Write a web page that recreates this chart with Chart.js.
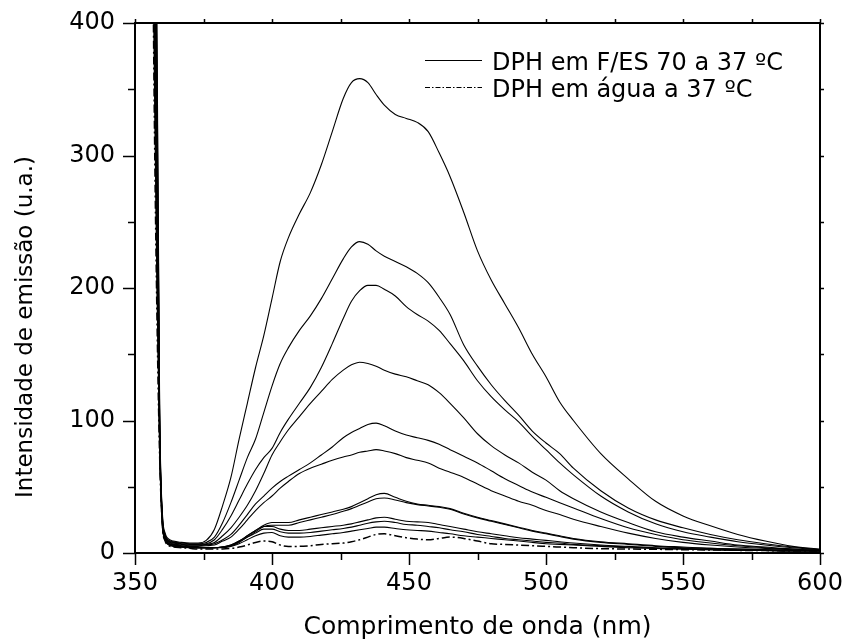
<!DOCTYPE html>
<html>
<head>
<meta charset="utf-8">
<script src="https://cdn.jsdelivr.net/npm/chart.js@4.4.0/dist/chart.umd.min.js"></script>
<style>
  html, body { margin: 0; padding: 0; background: #fff; }
  .chart-box { width: 844px; height: 643px; position: relative; }
</style>
</head>
<body>
<div class="chart-box"><canvas id="myChart"></canvas></div>
<script>
// comprimento de onda (nm)
const wavelength = [356,357,358,359,360,361,362,364,367,370,373,376,379,382,385,388,391,394,397,400,403,406,
  410,414,418,422,426,429,432,435,438,441,445,449,453,457,461,465,470,475,480,485,490,495,500,505,510,
  520,530,540,550,560,570,580,590,600];

// DPH em F/ES 70 (varias concentracoes)
const fes1 = [900,600,400,110,30,15,11,9,8,7.5,7.5,9.5,18,36,57,86,113,140,164,192,220,238,
  256,272,293,318,343,355,358,355,346,338,331,328,325,318,302,284,257,228,206,188,170,150,133,114,100,
  75,56,39,28,20.5,14,9,5,3];
const fes2 = [880,580,380,105,28,14,10,8.5,7.5,7,7,8,12,23,38,55,72,86,106,126,143,155,
  168,179,192,207,222,231,235,233,228,224,220,216,211,204,193,180,157,141,127,115,104,92,83,75,64,
  47,34,25,19,14,10,7,4.5,2.5];
const fes3 = [860,560,360,100,27,13,9.5,8,7,6.5,6.5,7,10,18,28,40,52,63,72,79,91,101,
  113,125,140,158,177,190,198,202,202,199,194,186,180,175,168,158,145,130,118,108,99,88,78,68,59,
  43,31,22,16,12,8.5,6,4,2.5];
const fes4 = [840,540,340,97,26,12.5,9,7.5,6.5,6,6,6.5,8,13,19,27,36,47,60,74,84,93,
  103,113,122,131,138,142,144,143,141,138,135,133,130,127,121,113,102,90,81,74,68,61,55,47,41,
  31,23,16,12,9,6,4.5,3,2];
const fes5 = [820,520,320,94,25,12,8.5,7,6,5.5,5.5,6,7,10,14,21,29,37,43,49,54,58,
  63,68,74,80,87,91,94,97,98,96,92,89,87,85,82,78,73,68,62,56,51,46,42,38,34,
  26,19,14,10,7.5,5.5,4,3,2];
const fes6 = [800,500,300,91,24,11.5,8,6.5,5.5,5,5,5.5,6,9,12,18,25,32,38,43,49,54,
  60,64,67,70,72.5,74,76,77,78,77,75,72,70,68,64,61,57,52,47,43,39,36,32,29,25.5,
  20,15,11,8,6,4.5,3.5,2.5,2];
const fes7 = [760,470,280,88,23,11,7.5,6,5,4.5,4,4,4,4.5,6,9,13,17,21,23,23,23,
  25,27,29,31,33,35,38,41,44,45,42,39,37,36,35,33.5,30,27,24.5,22,19.5,17,15,13,11,
  8.5,7,5.5,4.5,3.5,3,2.5,2,1.5];
const fes8 = [730,450,260,85,22.5,10.5,7.5,6,5,4.5,4,4,4,4.5,5.5,8.5,12,16,20,21,21,21,
  23,25,27,29,31.5,33.5,36,38.5,41,41.5,40,38,36.5,35.5,34.5,33,29.5,26.5,24,21.5,19,16.5,14.5,12.5,10.5,
  8,6.5,5,4,3.5,3,2.5,2,1.5];
const fes9 = [700,430,240,82,22,10,7,5.5,4.5,4,4,4,4,4.5,6,9,13,17,20,20,18,17,
  17,18,19,20,21,22,23.5,25,26.5,27,25.5,24,23.5,23,21.5,20,18,16,14.5,13,11.5,10.5,9.5,8.5,7.5,
  6,5,4,3.5,3,2.5,2,1.5,1.5];
const fes10 = [660,400,220,79,21.5,10,7,5.5,4.5,4,4,4,4,4.5,5.5,8,12,15,18,18,16,15,
  15,15.5,16.5,17.5,18.5,19.5,21,22.5,23.5,24,23,21.5,21,20,19,17.5,16,14,12.5,11,10,9,8,7.5,6.5,
  5.5,4.5,3.5,3,2.5,2,2,1.5,1.5];
const fes11 = [620,370,200,76,21,9.5,6.5,5,4.5,4,4,4,4,4,5,7,10,13,15,15.5,13,12,
  12,12.5,13.5,14.5,15.5,16.5,17.5,18.5,19.5,19.5,18.5,17.5,17,16.5,15.5,14.5,13,12,11,10,9,8,7,6.5,6,
  5,4,3.5,3,2.5,2,2,1.5,1.5];

// DPH em agua
const water = [580,340,180,72,20,9,6,4.5,4,3.5,3,3,3,3,3.5,4.5,6,8,9,8.5,6,5,
  5,5.5,6.5,7,7.5,8.5,10,12,14,14.5,13,11.5,10.5,10,11,12,11,9,7,6.5,6,5.5,5,4.5,4,
  3.3,3,2.8,2.5,2.3,2,1.8,1.5,1.5];

const legendLabels = ['DPH em F/ES 70 a 37 ºC', 'DPH em água a 37 ºC'];
const yTitle = 'Intensidade de emissão (u.a.)';
const fesSeries = [fes1, fes2, fes3, fes4, fes5, fes6, fes7, fes8, fes9, fes10, fes11];

const FONT = 'DejaVu Sans';

const toPoints = arr => arr.map((v, i) => ({ x: wavelength[i], y: v }));

const datasets = fesSeries.map((s, i) => ({
  label: i === 0 ? legendLabels[0] : 'F/ES ' + (i + 1),
  data: toPoints(s),
  borderColor: '#000',
  borderWidth: 1.1,
  pointRadius: 0,
  fill: false,
  cubicInterpolationMode: 'monotone'
}));
datasets.push({
  label: legendLabels[1],
  data: toPoints(water),
  borderColor: '#000',
  borderWidth: 1.5,
  borderDash: [8, 3, 2, 3],
  pointRadius: 0,
  fill: false,
  cubicInterpolationMode: 'monotone'
});

// moldura, marcas dos eixos, titulo do eixo y e legenda
const framePlugin = {
  id: 'frame',
  afterDraw(chart) {
    const { ctx, chartArea: a, scales: { x, y } } = chart;
    ctx.save();
    ctx.strokeStyle = '#000';
    ctx.lineWidth = 2;
    ctx.strokeRect(a.left, a.top, a.right - a.left, a.bottom - a.top);

    ctx.lineWidth = 1.5;
    ctx.beginPath();
    x.ticks.forEach(t => {
      const px = Math.round(x.getPixelForValue(t.value)) + 0.5;
      const major = t.value % 50 === 0;
      ctx.moveTo(px, a.bottom);
      ctx.lineTo(px, a.bottom + (major ? 12 : 7));
      ctx.moveTo(px, a.top);
      ctx.lineTo(px, a.top - 4);
    });
    y.ticks.forEach(t => {
      const py = Math.round(y.getPixelForValue(t.value)) + 0.5;
      const major = t.value % 100 === 0;
      ctx.moveTo(a.left, py);
      ctx.lineTo(a.left - (major ? 12 : 7), py);
      ctx.moveTo(a.right, py);
      ctx.lineTo(a.right + 4, py);
    });
    ctx.stroke();

    ctx.fillStyle = '#000';

    // titulo do eixo y (abaixo do centro, como no original)
    ctx.save();
    ctx.translate(26, 327);
    ctx.rotate(-Math.PI / 2);
    ctx.font = '23px "' + FONT + '"';
    ctx.textAlign = 'center';
    ctx.textBaseline = 'middle';
    ctx.fillText(yTitle, 0, 0);
    ctx.restore();

    // legenda
    const lx = a.left + 290, tx = a.left + 357;
    ctx.font = '24px "' + FONT + '"';
    ctx.textBaseline = 'alphabetic';
    ctx.lineWidth = 1;
    ctx.beginPath();
    ctx.moveTo(lx, 60.5);
    ctx.lineTo(lx + 57, 60.5);
    ctx.stroke();
    ctx.fillText(legendLabels[0], tx, 70);
    ctx.setLineDash([5, 2, 1.5, 2]);
    ctx.beginPath();
    ctx.moveTo(lx, 87.5);
    ctx.lineTo(lx + 57, 87.5);
    ctx.stroke();
    ctx.setLineDash([]);
    ctx.fillText(legendLabels[1], tx, 96.5);
    ctx.restore();
  }
};

const ctx = document.getElementById('myChart').getContext('2d');
new Chart(ctx, {
  type: 'line',
  data: { datasets: datasets },
  options: {
    responsive: true,
    maintainAspectRatio: false,
    animation: false,
    layout: { padding: { left: 0, right: 24, top: 23, bottom: 0 } },
    plugins: { legend: { display: false }, tooltip: { enabled: false } },
    scales: {
      x: {
        type: 'linear',
        min: 350,
        max: 600,
        border: { display: false },
        grid: { display: false, drawTicks: false },
        ticks: {
          stepSize: 25,
          autoSkip: false,
          maxRotation: 0,
          padding: 16,
          color: '#000',
          font: { family: FONT, size: 24 },
          callback: v => (v % 50 === 0 ? v : '')
        },
        title: {
          display: true,
          text: 'Comprimento de onda (nm)',
          color: '#000',
          font: { family: FONT, size: 25 },
          padding: { top: 0, bottom: 1 }
        },
        afterFit: s => { s.height = 90; s.paddingLeft = 0; s.paddingRight = 0; }
      },
      y: {
        min: 0,
        max: 400,
        border: { display: false },
        grid: { display: false, drawTicks: false },
        ticks: {
          stepSize: 50,
          autoSkip: false,
          padding: 20,
          color: '#000',
          font: { family: FONT, size: 24 },
          callback: v => (v % 100 === 0 ? v : '')
        },
        title: { display: false },
        afterFit: s => { s.width = 135; s.paddingTop = 0; s.paddingBottom = 0; }
      }
    }
  },
  plugins: [framePlugin]
});
</script>
</body>
</html>
